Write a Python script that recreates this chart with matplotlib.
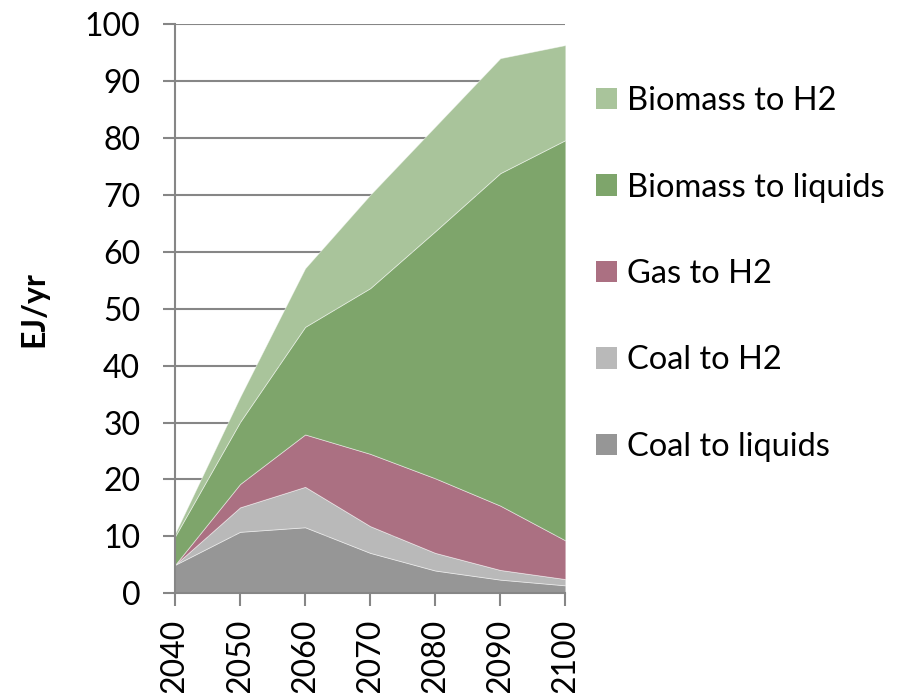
import numpy as np
import matplotlib
matplotlib.use("Agg")
import matplotlib.pyplot as plt
from matplotlib.patches import Patch

plt.rcParams['font.family'] = ['Lato', 'DejaVu Sans']

years = [2040, 2050, 2060, 2070, 2080, 2090, 2100]
coal_liquids = [5.0, 10.8, 11.6, 7.1, 4.0, 2.4, 1.4]
coal_h2 = [0.0, 4.3, 7.1, 4.7, 3.1, 1.7, 1.1]
gas_h2 = [0.0, 4.1, 9.2, 12.7, 13.1, 11.3, 6.8]
biomass_liquids = [5.0, 10.9, 18.9, 29.1, 43.4, 58.4, 70.3]
biomass_h2 = [0.5, 4.4, 10.3, 16.4, 18.4, 20.2, 16.7]

labels = ['Coal to liquids', 'Coal to H2', 'Gas to H2', 'Biomass to liquids', 'Biomass to H2']
colors = ['#969696', '#b9b9b9', '#ab7082', '#7ea56b', '#a9c49b']

fig = plt.figure(figsize=(9.02, 6.93), dpi=100)
ax = fig.add_axes([175 / 902, 1 - 593.3 / 693, 390.3 / 902, 569.3 / 693])

ax.stackplot(years, coal_liquids, coal_h2, gas_h2, biomass_liquids, biomass_h2,
             colors=colors, edgecolor=(1, 1, 1, 0.5), linewidth=0.6, zorder=2)

grid_col = '#868686'
ax.set_xlim(2040, 2100)
ax.set_ylim(0, 100)
ax.set_yticks(range(0, 101, 10))
ax.set_xticks(years)
ax.yaxis.grid(True, color=grid_col, linewidth=1.5, zorder=0)
ax.set_axisbelow(True)

for s in ['top', 'right']:
    ax.spines[s].set_visible(False)
for s in ['left', 'bottom']:
    ax.spines[s].set_color(grid_col)
    ax.spines[s].set_linewidth(1.5)
    ax.spines[s].set_zorder(3)

ax.tick_params(axis='y', length=9, width=1.5, color=grid_col, pad=16, labelsize=23)
ax.tick_params(axis='x', length=9, width=1.5, color=grid_col, pad=9, labelsize=23,
               labelrotation=90)

ax.set_ylabel('EJ/yr', fontsize=23, fontweight='bold', labelpad=26)

handles = [Patch(facecolor=c, edgecolor='none') for c in colors[::-1]]
fig.legend(handles, labels[::-1], loc='upper left', bbox_to_anchor=(583 / 902, 1 - 73 / 693),
           frameon=False, fontsize=23.5, handlelength=0.65, handleheight=0.65,
           handletextpad=0.3, labelspacing=1.73, borderaxespad=0)

fig.savefig('out.png', dpi=100)
